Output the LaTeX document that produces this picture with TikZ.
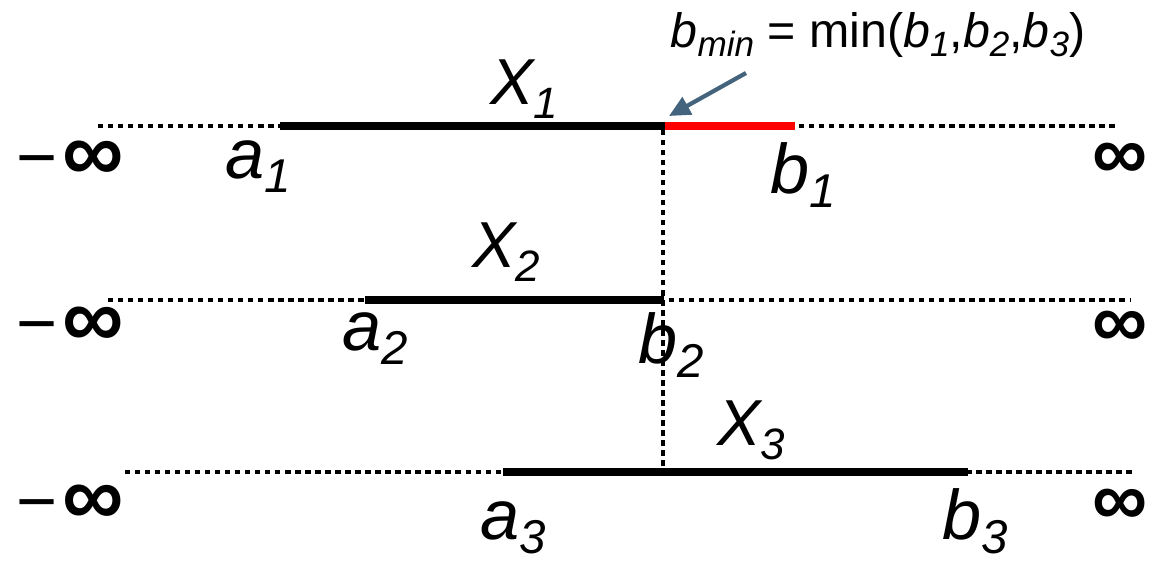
\documentclass[tikz,border=0pt]{standalone}
\usepackage{fontspec}
\setmainfont{Liberation Sans}
\usetikzlibrary{arrows.meta}
\definecolor{arrowblue}{HTML}{44647E}
\newcommand{\biglab}[2]{{\fontsize{40}{40}\selectfont\itshape #1\raisebox{-8.5pt}{\fontsize{27}{27}\selectfont #2}}}
\newcommand{\xlab}[2]{{\fontsize{37}{37}\selectfont\itshape #1\raisebox{-8pt}{\fontsize{25}{25}\selectfont #2}}}
\newcommand{\neginf}{{\fontsize{40}{40}\selectfont −\hspace{3pt}{\fontsize{49}{49}\selectfont\bfseries ∞}}}
\newcommand{\posinf}{{\fontsize{44}{44}\selectfont\bfseries ∞}}
\tikzset{
  dotline/.style={line width=2.5pt, dash pattern=on 3pt off 2.7pt},
  seg/.style={line width=5.1pt},
  redseg/.style={line width=5.1pt, red},
  lab/.style={inner sep=0pt, anchor=base west},
}
\begin{document}
\begin{tikzpicture}[x=0.02cm, y=-0.02cm]
\useasboundingbox (0,0) rectangle (1153,561);
% row coordinates
\coordinate (l1) at (98,126);  \coordinate (r1) at (1115,126);
\coordinate (a1) at (280,126); \coordinate (m1) at (665,126); \coordinate (b1) at (795,126);
\coordinate (l2) at (108,300); \coordinate (r2) at (1130,300);
\coordinate (a2) at (365,300); \coordinate (b2) at (664,300);
\coordinate (l3) at (125,472); \coordinate (r3) at (1132,472);
\coordinate (a3) at (503,472); \coordinate (b3) at (968,472);
\coordinate (v1) at (663,130); \coordinate (v3) at (663,470);
% dotted lines
\draw[dotline] (l1) -- (r1);
\draw[dotline] (l2) -- (r2);
\draw[dotline] (l3) -- (r3);
\draw[dotline] (v1) -- (v3);
% segments
\draw[seg] (a1) -- (m1);
\draw[redseg] (m1) -- (b1);
\draw[seg] (a2) -- (b2);
\draw[seg] (a3) -- (b3);
% infinity labels
\node[lab] (ninf1) at (16,181) {\neginf};
\node[lab] (pinf1) at (1092,179) {\posinf};
\node[lab] (ninf2) at (16,347) {\neginf};
\node[lab] (pinf2) at (1092,347) {\posinf};
\node[lab] (ninf3) at (16,525) {\neginf};
\node[lab] (pinf3) at (1092,525) {\posinf};
% interval labels
\node[lab] (X1) at (490,104) {\xlab{X}{1}};
\node[lab] (X2) at (472,267) {\xlab{X}{2}};
\node[lab] (X3) at (717,445) {\xlab{X}{3}};
\node[lab] (la1) at (225,178) {\biglab{a}{1}};
\node[lab] (lb1) at (770,193) {\biglab{b}{1}};
\node[lab] (la2) at (342,350) {\biglab{a}{2}};
\node[lab] (lb2) at (638,363) {\biglab{b}{2}};
\node[lab] (la3) at (480,539) {\biglab{a}{3}};
\node[lab] (lb3) at (942,539) {\biglab{b}{3}};
% bmin label
\node[inner sep=0pt, anchor=base] (bmin) at (878,48) {\fontsize{27.5}{27.5}\selectfont\textit{b}\raisebox{-5pt}{\fontsize{20}{20}\selectfont\textit{min}} = min(\textit{b}\raisebox{-5pt}{\fontsize{20}{20}\selectfont\textit{1}},\textit{b}\raisebox{-5pt}{\fontsize{20}{20}\selectfont\textit{2}},\textit{b}\raisebox{-5pt}{\fontsize{20}{20}\selectfont\textit{3}})};
\coordinate (arrS) at (746,73);
\coordinate (arrE) at (669,116);
\draw[arrowblue, line width=2.4pt, -{Triangle[length=12pt, width=11pt]}] (arrS) -- (arrE);
\end{tikzpicture}
\end{document}
